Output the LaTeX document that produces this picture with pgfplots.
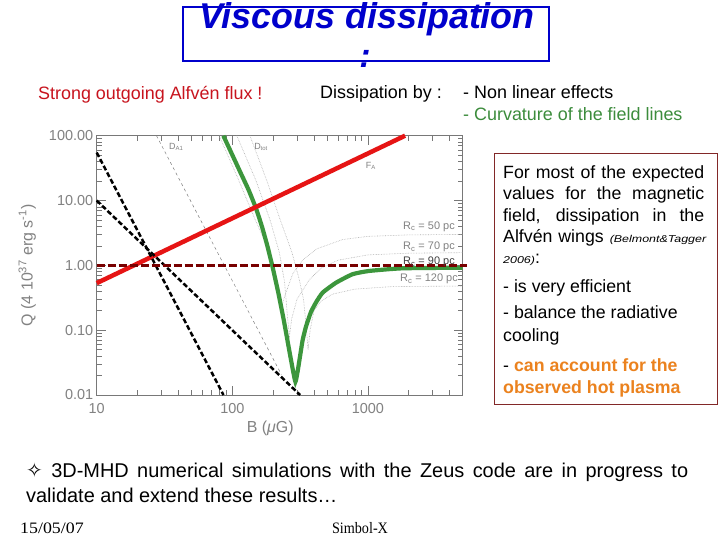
\documentclass[border=0pt]{standalone}
\usepackage{fontspec}
\setmainfont{Liberation Sans}
\newfontfamily\dejavu{DejaVu Sans}
\newfontfamily\seriffont{Liberation Serif}
\usepackage{graphicx}
\usepackage{pgfplots}
\pgfplotsset{compat=1.18}
\definecolor{titleblue}{RGB}{0,0,204}
\definecolor{strongred}{RGB}{200,20,30}
\definecolor{curvgreen}{RGB}{60,140,60}
\definecolor{orangetxt}{RGB}{235,130,30}
\definecolor{boxbrown}{RGB}{130,40,40}
\definecolor{plotred}{RGB}{230,20,20}
\definecolor{plotgreen}{RGB}{60,150,60}
\definecolor{maroon}{RGB}{120,0,0}
\definecolor{axgray}{RGB}{120,120,120}
\definecolor{lblgray}{RGB}{130,130,130}
\definecolor{dotgray}{RGB}{175,175,175}
\begin{document}
\begin{tikzpicture}
\fill[white] (0,0) rectangle (720bp,-540bp);
\path[use as bounding box] (0,0) rectangle (720bp,-540bp);
% title
\node[anchor=base, text=titleblue, inner sep=0] at (367bp,-28bp) {\fontsize{36}{36}\selectfont\bfseries\itshape Viscous dissipation};
\node[anchor=base, text=titleblue, inner sep=0] at (365bp,-67bp) {\fontsize{34}{34}\selectfont\bfseries\itshape :};
\draw[titleblue, line width=1.5bp] (183bp,-7bp) rectangle (549bp,-61bp);
% top texts
\node[anchor=base west, text=strongred, inner sep=0] at (38bp,-99bp) {\fontsize{18}{18}\selectfont Strong outgoing Alfvén flux !};
\node[anchor=base west, inner sep=0] at (320bp,-98bp) {\fontsize{18}{18}\selectfont Dissipation by :};
\node[anchor=base west, inner sep=0] at (463bp,-98bp) {\fontsize{18}{18}\selectfont - Non linear effects};
\node[anchor=base west, text=curvgreen, inner sep=0] at (463bp,-120bp) {\fontsize{18}{18}\selectfont - Curvature of the field lines};
% text box
\draw[boxbrown, line width=0.8bp] (494bp,-153bp) rectangle (717bp,-404bp);
\begin{scope}[every node/.style={anchor=base west, inner sep=0, font=\fontsize{17.8}{17.8}\selectfont}]
\node at (503bp,-178bp) {\makebox[201bp][s]{For most of the expected}};
\node at (503bp,-199.5bp) {\makebox[201bp][s]{values for the magnetic}};
\node at (503bp,-221bp) {\makebox[201bp][s]{field, dissipation in the}};
\node at (503bp,-242bp) {\makebox[203bp][s]{Alfvén wings {\fontsize{10}{10}\selectfont\itshape\scalebox{1.25}[1]{(Belmont\&Tagger}}}};
\node at (503bp,-263.5bp) {{\fontsize{10}{10}\selectfont\itshape\scalebox{1.25}[1]{2006)}}:};
\node at (503bp,-292bp) {- is very efficient};
\node at (503bp,-318.5bp) {- balance the radiative};
\node at (503bp,-341.5bp) {cooling};
\node at (503bp,-371.5bp) {- \textcolor{orangetxt}{\bfseries can account for the}};
\node at (503bp,-393.5bp) {\textcolor{orangetxt}{\bfseries observed hot plasma}};
\end{scope}
% bottom text
\node[anchor=base west, inner sep=0] at (26bp,-477bp) {\fontsize{20}{20}\selectfont\makebox[662bp][s]{{\dejavu\fontsize{20}{20}\selectfont ✧} 3D-MHD numerical simulations with the Zeus code are in progress to}};
\node[anchor=base west, inner sep=0] at (26bp,-502bp) {\fontsize{20}{20}\selectfont validate and extend these results…};
\node[anchor=base west, inner sep=0] at (20bp,-533bp) {\seriffont\fontsize{16}{16}\selectfont\scalebox{1.12}[1]{15/05/07}};
\node[anchor=base, inner sep=0] at (360bp,-533bp) {\seriffont\fontsize{16}{16}\selectfont\scalebox{0.89}[1]{Simbol-X}};
% chart
\begin{axis}[
  at={(96.7bp,-395bp)}, anchor=south west,
  scale only axis, width=366bp, height=259.3bp,
  xmode=log, ymode=log, xmin=10, xmax=5000, ymin=0.01, ymax=100,
  clip=false,
  axis line style={axgray, line width=0.6pt},
  every tick/.style={axgray, line width=0.5pt},
  tick pos=both, tick align=inside,
  major tick length=9bp, minor tick length=5bp,
  xtick={10,100,1000}, xticklabels={10,100,1000},
  ytick={0.01,0.1,1,10,100}, yticklabels={0.01,0.10,1.00,10.00,100.00},
  minor xtick={20,30,40,50,60,70,80,90,200,300,400,500,600,700,800,900,2000,3000,4000,5000},
  minor ytick={0.02,0.03,0.04,0.05,0.06,0.07,0.08,0.09,0.2,0.3,0.4,0.5,0.6,0.7,0.8,0.9,2,3,4,5,6,7,8,9,20,30,40,50,60,70,80,90},
  tick label style={font=\fontsize{14.5}{14.5}\selectfont, text=lblgray},
  xticklabel style={yshift=-5bp},
  xlabel={B ({\itshape μ}G)},
  ylabel={Q (4 10\textsuperscript{37} erg s\textsuperscript{-1})},
  label style={font=\fontsize{16}{16}\selectfont, text=lblgray},
  xlabel style={at={(axis description cs:0.474,-0.127)}, anchor=center},
  ylabel style={at={(axis description cs:-0.19,0.5)}, anchor=center},
]
% dotted Rc curves
\addplot[dotgray, densely dotted, line width=0.6pt] coordinates {(80,100) (110,22) (145,5.5) (180,2) (205,0.8) (220,0.35) (230,0.22) (245,0.35) (280,0.75) (330,1.2) (420,1.8) (650,2.5) (1000,2.8) (2000,2.95) (5000,3.0)};
\addplot[dotgray, densely dotted, line width=0.6pt] coordinates {(108,100) (150,20) (190,5) (222,1.6) (243,0.55) (256,0.15) (264,0.08) (274,0.15) (300,0.3) (370,0.6) (450,0.9) (600,1.2) (1000,1.45) (2000,1.54) (5000,1.57)};
\addplot[dotgray, densely dotted, line width=0.6pt] coordinates {(135,100) (180,20) (230,4.5) (275,1.6) (312,0.6) (335,0.3) (350,0.12) (362,0.05) (375,0.1) (400,0.2) (450,0.28) (550,0.36) (800,0.43) (1500,0.47) (5000,0.48)};
% thin dashed D_A1
\addplot[gray, dashed, line width=0.5pt] coordinates {(27.6,100) (230,0.0207)};
% green D_tot
\addplot[plotgreen, line width=4.2bp, smooth, tension=0.3] coordinates {(85.9,100) (100,50.5) (114.8,27.1) (131.8,14.6) (150,7.45) (166,3.87) (182,1.94) (199.5,0.887) (218.8,0.37) (239.9,0.141) (263,0.0488) (280,0.024) (292,0.016) (302,0.022) (313,0.035) (330,0.07) (350,0.115) (380,0.19) (415,0.27) (464,0.38) (582,0.54) (771,0.73) (1023,0.82) (1795,0.9) (5000,0.92)};
% red F_A
\addplot[plotred, line width=4.5bp] coordinates {(10,0.532) (1880,100)};
% black dashed
\addplot[black, line width=2.5bp, dash pattern=on 5bp off 2.5bp] coordinates {(10,55) (86.1,0.01)};
\addplot[black, line width=2.5bp, dash pattern=on 5bp off 2.5bp] coordinates {(10,10) (316,0.01)};
% maroon dashed horizontal
\addplot[maroon, line width=2.5bp, dash pattern=on 8bp off 3bp] coordinates {(10,1) (5400,1)};
% labels
\node[text=lblgray, font=\fontsize{9}{9}\selectfont] at (axis cs:38.7,66) {D\textsubscript{A1}};
\node[text=lblgray, font=\fontsize{9}{9}\selectfont] at (axis cs:163,66) {D\textsubscript{tot}};
\node[text=lblgray, font=\fontsize{9}{9}\selectfont] at (axis cs:1052,34) {F\textsubscript{A}};
\node[text=lblgray, font=\fontsize{11}{11}\selectfont] at (axis cs:2820,4.0) {R\textsubscript{c} = 50 pc};
\node[text=lblgray, font=\fontsize{11}{11}\selectfont] at (axis cs:2820,1.92) {R\textsubscript{c} = 70 pc};
\node[text=darkgray, font=\fontsize{11}{11}\selectfont] at (axis cs:2820,1.12) {R\textsubscript{c} = 90 pc};
\node[text=lblgray, font=\fontsize{11}{11}\selectfont] at (axis cs:2820,0.62) {R\textsubscript{c} = 120 pc};
\end{axis}
\end{tikzpicture}
\end{document}
